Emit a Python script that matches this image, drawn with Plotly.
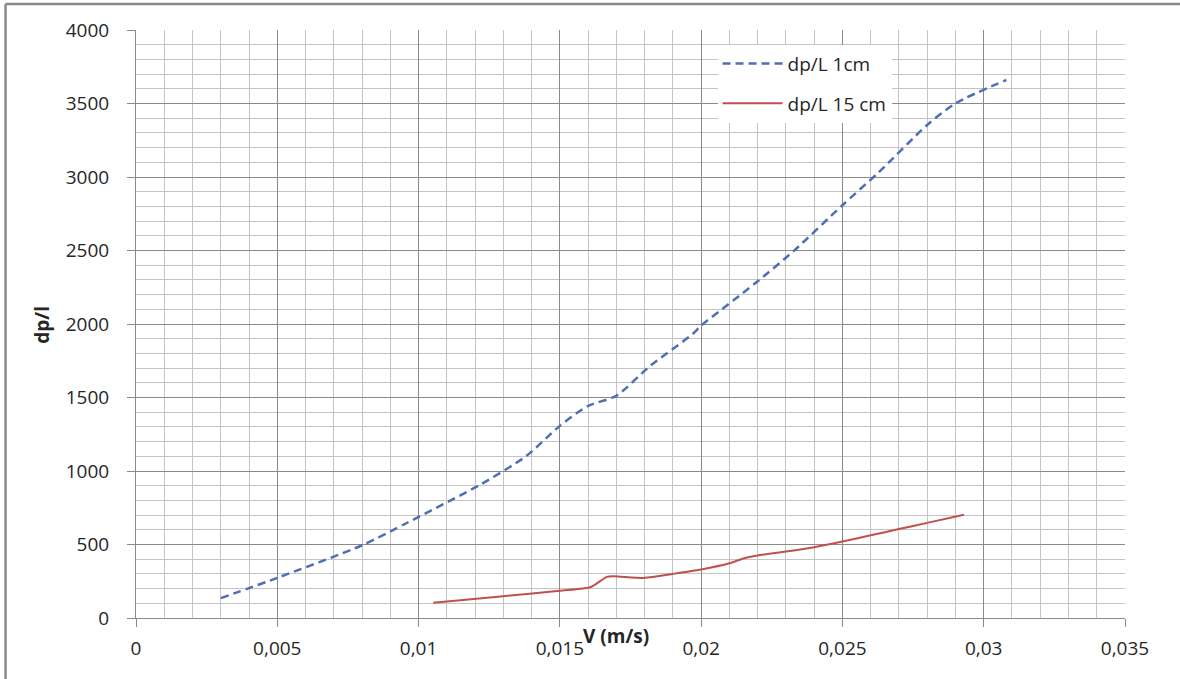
import plotly.graph_objects as go

# Data
v_1cm = [0.0030, 0.0050, 0.0080, 0.0096, 0.0122, 0.0138, 0.0150, 0.0160, 0.0170,
         0.0182, 0.0197, 0.0200, 0.0219, 0.0233, 0.0250, 0.0263, 0.0280, 0.0290, 0.0308]
dpl_1cm = [135, 273, 495, 648, 909, 1100, 1307, 1443, 1512,
           1716, 1932, 1989, 2275, 2501, 2808, 3035, 3354, 3501, 3660]

v_15cm = [0.01052, 0.0129, 0.0150, 0.0161, 0.01666, 0.0169, 0.0180, 0.0190, 0.0200,
          0.0210, 0.0215, 0.0220, 0.0230, 0.0240, 0.0250, 0.0260, 0.0270, 0.0280, 0.0293]
dpl_15cm = [104, 147, 186, 211, 280, 284, 273, 300, 330,
            372, 405, 425, 452, 482, 520, 563, 605, 647, 703]

x_ticks = [0, 0.005, 0.01, 0.015, 0.02, 0.025, 0.03, 0.035]
x_labels = ["0", "0,005", "0,01", "0,015", "0,02", "0,025", "0,03", "0,035"]
y_ticks = [0, 500, 1000, 1500, 2000, 2500, 3000, 3500, 4000]
y_labels = ["0", "500", "1000", "1500", "2000", "2500", "3000", "3500", "4000"]

names = ["dp/L 1cm", "dp/L 15 cm"]
x_title = "V (m/s)"
y_title = "dp/l"

FONT = "Open Sans"
TXT = "#262626"
fig = go.Figure()
fig.add_trace(go.Scatter(x=v_1cm, y=dpl_1cm, mode="lines", name=names[0],
                         legendgroup="a",
                         line=dict(color="#4F6FB5", width=2.5, dash="8px,5px",
                                   shape="spline", smoothing=0.7)))
fig.add_trace(go.Scatter(x=v_15cm, y=dpl_15cm, mode="lines", name=names[1],
                         legendgroup="b",
                         line=dict(color="#C0504D", width=2,
                                   shape="spline", smoothing=0.6)))

fig.update_layout(
    width=1180, height=679,
    margin=dict(l=135.5, r=55, t=30, b=61, autoexpand=False),
    paper_bgcolor="white", plot_bgcolor="white",
    font=dict(family=FONT, size=19, color=TXT),
    showlegend=True,
    legend=dict(x=0.588, y=0.975, xanchor="left", yanchor="top",
                bgcolor="white", borderwidth=0,
                font=dict(family=FONT, size=19, color=TXT),
                itemwidth=60, tracegroupgap=12),
    xaxis=dict(range=[0, 0.035], tickvals=x_ticks, ticktext=x_labels,
               showgrid=True, gridcolor="#8a8a8a", gridwidth=1,
               minor=dict(dtick=0.001, showgrid=True, gridcolor="#c4c4c4", gridwidth=1),
               ticks="outside", ticklen=8, tickcolor="#8a8a8a",
               showline=True, linecolor="#8a8a8a", linewidth=1,
               zeroline=False, ticklabelstandoff=5, mirror=False),
    yaxis=dict(range=[0, 4000], tickvals=y_ticks, ticktext=y_labels,
               showgrid=True, gridcolor="#8a8a8a", gridwidth=1,
               minor=dict(dtick=100, showgrid=True, gridcolor="#c4c4c4", gridwidth=1),
               ticks="outside", ticklen=8, tickcolor="#8a8a8a",
               showline=True, linecolor="#8a8a8a", linewidth=1,
               zeroline=False, ticklabelstandoff=14),
    annotations=[
        dict(text="<b>" + x_title + "</b>", xref="paper", yref="paper",
             x=0.4856, y=0, yshift=-18, xanchor="center", yanchor="middle",
             showarrow=False, font=dict(family=FONT, size=19, color=TXT)),
        dict(text="<b>" + y_title + "</b>", xref="paper", yref="paper",
             x=-0.0945, y=0.498, xanchor="center", yanchor="middle", textangle=-90,
             showarrow=False, font=dict(family=FONT, size=19, color=TXT)),
    ],
    shapes=[
        dict(type="line", xref="paper", yref="paper",
             x0=-0.1319, x1=1.2, y0=1.0442, y1=1.0442,
             line=dict(color="#8a8a8a", width=2.5), layer="below"),
        dict(type="line", xref="paper", yref="paper",
             x0=-0.1319, x1=-0.1319, y0=-0.2, y1=1.0442,
             line=dict(color="#8a8a8a", width=2.5), layer="below"),
    ],
)

fig.write_html("out.html", config={"displayModeBar": False},
               post_script=("document.body.style.margin='0';"
                            "document.body.style.padding='0';"
                            "document.body.style.overflow='hidden';"
                            "document.documentElement.style.overflow='hidden';"))
